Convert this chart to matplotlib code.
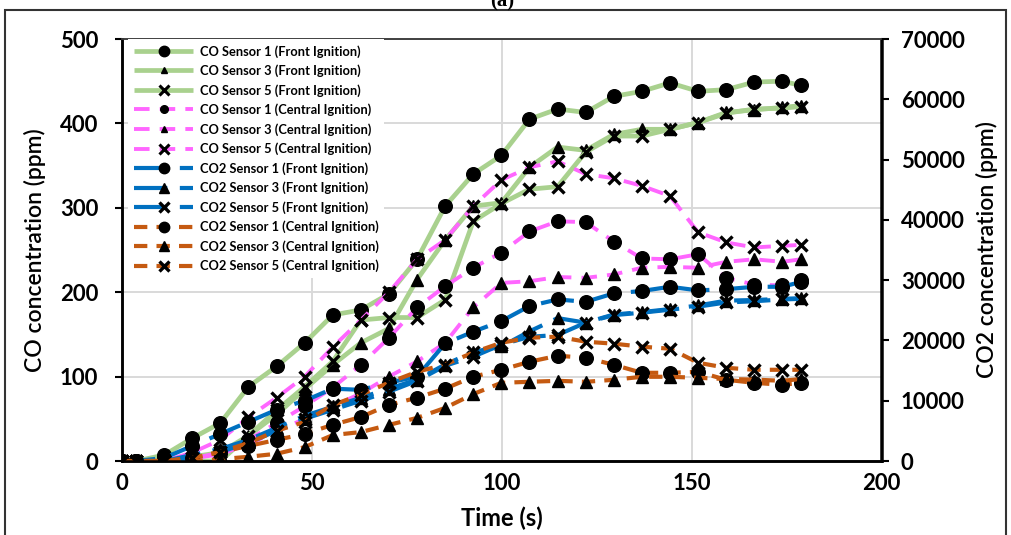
import matplotlib
matplotlib.use("Agg")
import matplotlib.pyplot as plt
from matplotlib.patches import Rectangle

plt.rcParams['font.family'] = ['Lato', 'DejaVu Sans']

# Sampling times (s)
time_s = [0, 3.7, 11.1, 18.5, 25.9, 33.3, 40.7, 48.1, 55.5, 62.9, 70.3, 77.7, 85.1,
          92.5, 99.9, 107.3, 114.7, 122.1, 129.5, 136.9, 144.3, 151.7, 159.1,
          166.5, 173.9, 178.8]

# CO concentration (ppm), front ignition
co_front_s1 = [0, 0, 7, 27, 45, 88, 112, 140, 173, 179, 198, 239, 302, 340, 362, 405,
               417, 413, 432, 438, 448, 438, 440, 449, 450, 445]
co_front_s3 = [0, 0, 0, 5, 10, 30, 55, 85, 114, 140, 157, 215, 262, 302, 306, 348,
               372, 368, 387, 393, 393, 401, 413, 416, 419, 421]
co_front_s5 = [0, 0, 0, 0, 0, 30, 60, 88, 118, 167, 170, 170, 191, 284, 305, 322,
               325, 366, 385, 385, 393, 401, 412, 417, 418, 420]

# CO concentration (ppm), central ignition
co_central_s1 = [0, 0, 0, 3, 10, 25, 45, 65, 87, 114, 146, 182, 207, 229, 247, 272,
                 284, 283, 260, 240, 239, 245, 217, 209, 208, 214]
co_central_s3 = [0, 0, 0, 3, 8, 20, 35, 50, 65, 80, 100, 118, 140, 182, 211, 213,
                 218, 217, 221, 229, 230, 229, 236, 239, 236, 239]
co_central_s5 = [0, 0, 0, 10, 25, 52, 75, 100, 135, 167, 200, 239, 262, 302, 333, 348,
                 355, 340, 335, 326, 314, 271, 259, 253, 255, 256]

# CO2 concentration (ppm), front ignition
co2_front_s1 = [0, 0, 500, 2500, 4500, 6500, 8500, 10000, 12000, 11800, 13000, 14000,
                19500, 21450, 23200, 25700, 26800, 26400, 27800, 28200, 28900, 28300,
                28500, 28900, 28900, 29700]
co2_front_s3 = [0, 0, 0, 1000, 2000, 3500, 5500, 7500, 9000, 10500, 12000, 13500,
                16000, 18100, 19000, 21500, 23700, 22950, 24300, 24700, 25200, 25800,
                26600, 26700, 26900, 27000]
co2_front_s5 = [0, 0, 0, 500, 1500, 3000, 5000, 7000, 8500, 10000, 11500, 13300,
                15800, 17300, 19300, 20600, 20900, 22950, 24200, 24600, 25100, 25600,
                26300, 26500, 26800, 26900]

# CO2 concentration (ppm), central ignition
co2_central_s1 = [0, 0, 0, 500, 1500, 2500, 3500, 4500, 6000, 7300, 9300, 10500,
                  12000, 13970, 15130, 16460, 17460, 17130, 15960, 14630, 14630, 14800,
                  13470, 12970, 12640, 12970]
co2_central_s3 = [0, 0, 0, 0, 300, 700, 1200, 2300, 4300, 4800, 5990, 7150, 8810,
                  11100, 12970, 13140, 13300, 13140, 13470, 13970, 13970, 13800,
                  13600, 13500, 13300, 13600]
co2_central_s5 = [0, 0, 0, 500, 1500, 3000, 5000, 6500, 9300, 11000, 13000, 14800,
                  16000, 18000, 19620, 20450, 20620, 19790, 19460, 18960, 18630, 16300,
                  15460, 15130, 15130, 15130]

co_labels = ["CO Sensor 1 (Front Ignition)", "CO Sensor 3 (Front Ignition)",
             "CO Sensor 5 (Front Ignition)", "CO Sensor 1 (Central Ignition)",
             "CO Sensor 3 (Central Ignition)", "CO Sensor 5 (Central Ignition)"]
co2_labels = ["CO2 Sensor 1 (Front Ignition)", "CO2 Sensor 3 (Front Ignition)",
              "CO2 Sensor 5 (Front Ignition)", "CO2 Sensor 1 (Central Ignition)",
              "CO2 Sensor 3 (Central Ignition)", "CO2 Sensor 5 (Central Ignition)"]

green = "#A9D18E"
pink = "#FF66FF"
blue = "#0070C0"
orange = "#C55A11"

fig = plt.figure(figsize=(10.11, 5.35), dpi=100)
ax = fig.add_axes([122 / 1011, 74 / 535, 759.5 / 1011, 422 / 535])
ax2 = ax.twinx()

mk = dict(markerfacecolor="black", markeredgecolor="black")
marker_sizes = {"o": 9.8, "^": 8.8, "x": 8.3}


def draw(axis, y, color, marker, label, dashes=None, lw=3.0):
    kw = dict(color=color, lw=lw, marker=marker, markersize=marker_sizes[marker],
              markeredgewidth=2.4 if marker == "x" else 1, label=label,
              solid_capstyle="butt", dash_capstyle="butt", **mk)
    line, = axis.plot(time_s, y, **kw)
    if dashes is not None:
        line.set_dashes(dashes)
    return line


handles = []
for ys, m, lab in zip([co_front_s1, co_front_s3, co_front_s5], ["o", "^", "x"], co_labels[:3]):
    handles.append(draw(ax, ys, green, m, lab, lw=3.4))
for ys, m, lab in zip([co_central_s1, co_central_s3, co_central_s5], ["o", "^", "x"], co_labels[3:]):
    handles.append(draw(ax, ys, pink, m, lab, dashes=(4, 2.6), lw=2.8))
for ys, m, lab in zip([co2_front_s1, co2_front_s3, co2_front_s5], ["o", "^", "x"], co2_labels[:3]):
    handles.append(draw(ax2, ys, blue, m, lab, dashes=(8, 3), lw=3.0))
for ys, m, lab in zip([co2_central_s1, co2_central_s3, co2_central_s5], ["o", "^", "x"], co2_labels[3:]):
    handles.append(draw(ax2, ys, orange, m, lab, dashes=(3.2, 2.2), lw=3.0))

# Axes ranges and ticks
ax.set_xlim(0, 200)
ax.set_ylim(0, 500)
ax2.set_ylim(0, 70000)
ax.set_xticks([0, 50, 100, 150, 200])
ax.set_yticks(range(0, 501, 100))
ax2.set_yticks(range(0, 70001, 10000))

for lab in ax.get_xticklabels() + ax.get_yticklabels() + ax2.get_yticklabels():
    lab.set_fontsize(16)
    lab.set_fontweight("bold")

ax.tick_params(axis="y", direction="out", length=5, width=1.5, pad=12)
ax.tick_params(axis="x", direction="out", length=0, pad=9)
ax2.tick_params(axis="y", direction="out", length=6, width=1.5, pad=8)

ax.grid(True, color="#D9D9D9", lw=1.4)
ax.set_axisbelow(True)

for a in (ax, ax2):
    for side in ("left", "right", "bottom"):
        a.spines[side].set_color("black")
        a.spines[side].set_linewidth(1.8)
    a.spines["top"].set_color("#404040")
    a.spines["top"].set_linewidth(1.2)

ax.set_ylabel("CO concentration (ppm)", fontsize=16.5, fontweight="semibold", labelpad=10)
ax2.set_ylabel("CO2 concentration (ppm)", fontsize=16.5, fontweight="semibold", labelpad=8)
ax.set_xlabel("Time (s)", fontsize=17, fontweight="bold", labelpad=9)

leg = ax2.legend(handles=handles, loc="upper left", bbox_to_anchor=(0.008, 1.0),
                 frameon=True, fancybox=False, edgecolor="none", facecolor="white",
                 framealpha=1.0, prop=dict(size=9.3, weight="bold"),
                 handlelength=4.6, handletextpad=0.5, labelspacing=0.53,
                 borderpad=0.45, borderaxespad=0.0)
small = {1: 4.5, 3: 5.5, 4: 4.5}
for i, h in enumerate(leg.legend_handles):
    if i in small:
        h.set_markersize(small[i])
    elif i in (2, 5):
        h.set_markersize(6.5)
        h.set_markeredgewidth(2.2)
    else:
        h.set_markersize(7.5 if h.get_marker() != "x" else 6.5)

# Panel frame and caption
fig.patches.append(Rectangle((5 / 1011, -0.02), 1001 / 1011, 1.0 - 10 / 535 + 0.02,
                             transform=fig.transFigure, fill=False,
                             edgecolor="#333333", lw=1.5))
fig.text(0.497, 1 - 6 / 535, "(a)", ha="center", va="baseline",
         fontsize=15, family="Liberation Serif", fontweight="bold")

fig.savefig("out.png", dpi=100)
